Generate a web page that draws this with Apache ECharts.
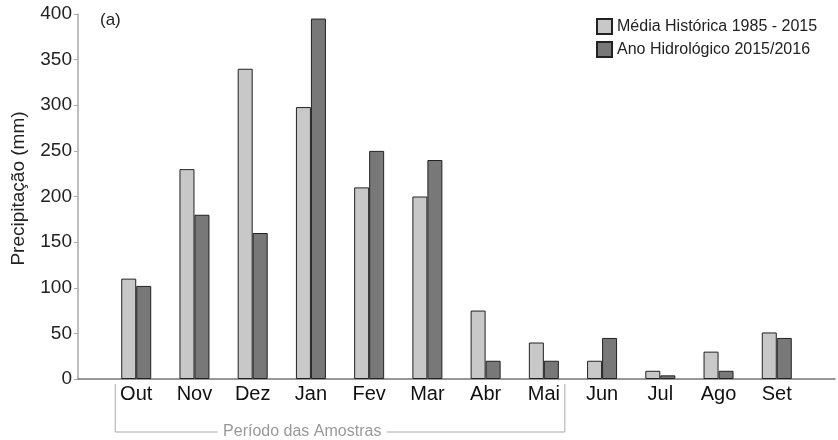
<!DOCTYPE html>
<html>
<head>
<meta charset="utf-8">
<script src="https://cdn.jsdelivr.net/npm/echarts@6/dist/echarts.min.js"></script>
<style>
  html, body { margin: 0; padding: 0; background: #fff; }
  #chart { width: 838px; height: 440px; }
</style>
</head>
<body>
<div id="chart"></div>
<script>
// Months of the hydrological year; empty slots pad each end of the axis
const months = ['', 'Out', 'Nov', 'Dez', 'Jan', 'Fev', 'Mar', 'Abr', 'Mai', 'Jun', 'Jul', 'Ago', 'Set', ''];
// Historical mean precipitation 1985 - 2015 (mm)
const historicalMean = [null, 110, 230, 340, 298, 210, 200, 75, 40, 20, 9, 30, 51, null];
// Hydrological year 2015/2016 precipitation (mm)
const hydroYear = [null, 102, 180, 160, 395, 250, 240, 20, 20, 45, 4, 9, 45, null];
// Value axis ticks
const yTicks = [0, 50, 100, 150, 200, 250, 300, 350, 400];
// Sampling period spans these months
const sampleStart = 'Out';
const sampleEnd = 'Mai';

const FONT = '"Liberation Sans", Arial, sans-serif';
const chart = echarts.init(document.getElementById('chart'), null, { renderer: 'canvas' });

chart.setOption({
  animation: false,
  backgroundColor: '#ffffff',
  textStyle: { fontFamily: FONT },
  grid: { left: 78, right: 0, top: 14, bottom: 61, containLabel: false },
  legend: {
    orient: 'vertical',
    left: 591,
    top: 13,
    itemWidth: 15,
    itemHeight: 15,
    itemGap: 6,
    icon: 'rect',
    textStyle: { fontFamily: FONT, fontSize: 16, color: '#222' },
    data: ['Média Histórica 1985 - 2015', 'Ano Hidrológico 2015/2016']
  },
  xAxis: {
    type: 'category',
    data: months,
    boundaryGap: false,
    axisLine: { lineStyle: { color: '#777', width: 1.5 } },
    axisTick: { show: false },
    axisLabel: { interval: 0, color: '#111', fontSize: 20, margin: 5, fontFamily: FONT },
    splitLine: { show: false }
  },
  yAxis: {
    type: 'value',
    min: yTicks[0],
    max: yTicks[yTicks.length - 1],
    interval: yTicks[1] - yTicks[0],
    name: 'Precipitação (mm)',
    nameLocation: 'middle',
    nameGap: 50,
    nameTextStyle: { fontSize: 19, color: '#222', fontFamily: FONT, padding: [0, 0, 0, 16] },
    axisLine: { show: true, lineStyle: { color: '#aaa', width: 1.5 } },
    axisTick: { show: true, length: 4, lineStyle: { color: '#aaa' } },
    axisLabel: { color: '#222', fontSize: 19, margin: 6, fontFamily: FONT },
    splitLine: { show: false }
  },
  series: [
    {
      name: 'Média Histórica 1985 - 2015',
      type: 'bar',
      data: historicalMean,
      barWidth: 15,
      barGap: '0%',
      itemStyle: { color: '#c8c8c8', borderColor: '#222', borderWidth: 1 }
    },
    {
      name: 'Ano Hidrológico 2015/2016',
      type: 'bar',
      data: hydroYear,
      barWidth: 15,
      barGap: '0%',
      itemStyle: { color: '#787878', borderColor: '#222', borderWidth: 1 }
    }
  ]
});

// Panel tag and the bracket marking the sampling period, placed from the axes
const x0 = chart.convertToPixel({ xAxisIndex: 0 }, sampleStart) - 21;
const x1 = chart.convertToPixel({ xAxisIndex: 0 }, sampleEnd) + 21;
const yBase = chart.convertToPixel({ yAxisIndex: 0 }, 0);
const yTop = yBase + 5;
const yBot = yBase + 53;
const labelText = 'Período das Amostras';
const labelW = 157;
const labelMid = x0 + 187;
const gap = 6;
chart.setOption({
  graphic: [
    {
      type: 'text',
      left: 100, top: 12,
      style: { text: '(a)', fontSize: 17, fontFamily: FONT, fill: '#222' }
    },
    {
      type: 'polyline',
      shape: { points: [[x0, yTop], [x0, yBot], [labelMid - labelW / 2 - gap, yBot]] },
      style: { stroke: '#aaa', lineWidth: 1, fill: null }
    },
    {
      type: 'polyline',
      shape: { points: [[labelMid + labelW / 2 + gap, yBot], [x1, yBot], [x1, yTop]] },
      style: { stroke: '#aaa', lineWidth: 1, fill: null }
    },
    {
      type: 'text',
      x: labelMid, y: yBot,
      style: {
        text: labelText, fontSize: 16, fontFamily: FONT, fill: '#999',
        align: 'center', verticalAlign: 'middle'
      }
    }
  ]
});
</script>
</body>
</html>
